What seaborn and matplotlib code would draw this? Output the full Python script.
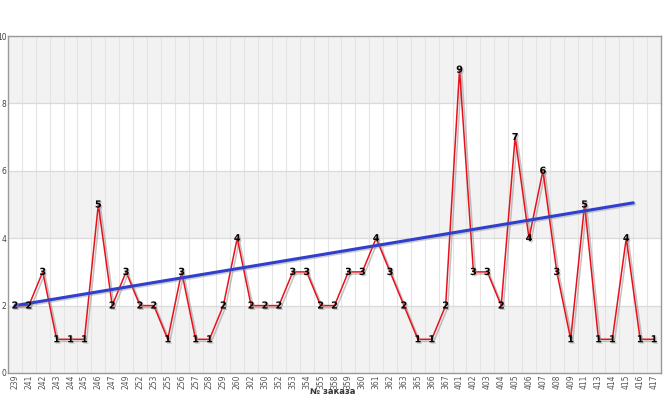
import matplotlib
matplotlib.use("Agg")
import matplotlib.pyplot as plt
import matplotlib.patheffects as pe
import seaborn as sns
import pandas as pd
import numpy as np

orders = ["239", "241", "242", "243", "244", "245", "246", "247", "249", "252",
          "253", "255", "256", "257", "258", "259", "260", "302", "350", "352",
          "353", "354", "355", "358", "359", "360", "361", "362", "363", "365",
          "366", "367", "401", "402", "403", "404", "405", "406", "407", "408",
          "409", "411", "413", "414", "415", "416", "417"]
counts = [2, 2, 3, 1, 1, 1, 5, 2, 3, 2,
          2, 1, 3, 1, 1, 2, 4, 2, 2, 2,
          3, 3, 2, 2, 3, 3, 4, 3, 2, 1,
          1, 2, 9, 3, 3, 2, 7, 4, 6, 3,
          1, 5, 1, 1, 4, 1, 1]
trend_pos = [0, 44.5]
trend_vals = [2.0, 5.05]
y_ticks = [0, 2, 4, 6, 8, 10]
x_title = "№ заказа"

sns.set_style("white")
plt.rcParams['font.family'] = ['DejaVu Sans']

fig = plt.figure(figsize=(6.66, 3.95), dpi=100)
ax = fig.add_axes([8/666, 1 - 373/395, (661 - 8)/666, (373 - 36)/395])

df = pd.DataFrame({"pos": np.arange(len(orders)), "count": counts})
tdf = pd.DataFrame({"pos": trend_pos, "val": trend_vals})

# alternating bands
for i in range(0, len(y_ticks) - 1):
    if i % 2 == 0:
        ax.axhspan(y_ticks[i], y_ticks[i + 1], color="#f2f2f2", zorder=0, lw=0)

ax.set_xlim(-0.5, len(orders) - 0.5)
ax.set_ylim(0, 10)

# grid lines
for b in np.arange(0.5, len(orders) - 0.5, 1):
    ax.axvline(b, color="#e4e4e4", lw=0.8, zorder=1)
for t in y_ticks[1:-1]:
    ax.axhline(t, color="#dadada", lw=0.9, zorder=1)

sns.lineplot(data=df, x="pos", y="count", ax=ax, color="#e8101a", lw=1.1,
             zorder=3,
             path_effects=[pe.SimpleLineShadow(offset=(1.5, -1.5), shadow_color="#888888", alpha=0.5),
                           pe.Normal()])
sns.lineplot(data=tdf, x="pos", y="val", ax=ax, color="#3040cc", lw=2.2, zorder=4,
             path_effects=[pe.SimpleLineShadow(offset=(1, -1), shadow_color="#888888", alpha=0.4),
                           pe.Normal()])

for p, c in zip(df["pos"], df["count"]):
    ax.text(p, c, str(c), ha="center", va="center", fontsize=7, fontweight="bold",
            color="black", zorder=5,
            path_effects=[pe.withSimplePatchShadow(offset=(1, -1), shadow_rgbFace="#999999", alpha=0.5)])

ax.set_xticks(np.arange(len(orders)))
ax.set_xticklabels(orders, rotation=90, fontsize=5.5, color="#555555")
ax.set_yticks(y_ticks)
ax.set_yticklabels([str(v) for v in y_ticks], fontsize=5.5, color="#444444")
ax.tick_params(axis="both", length=0, pad=1)
ax.set_xlabel("")
ax.set_ylabel("")
for s in ax.spines.values():
    s.set_color("#999999")
    s.set_linewidth(1.0)

fig.text(0.5, 1 - 392/395, x_title, ha="center", va="center", fontsize=6,
         fontweight="bold", color="#333333")

fig.savefig("out.png", dpi=100)
